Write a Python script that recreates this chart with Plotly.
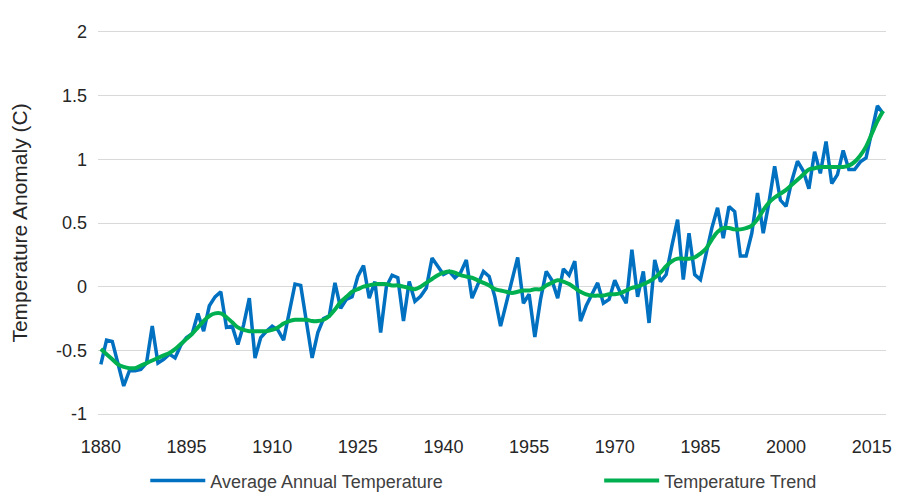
import plotly.graph_objs as go

#data
years = list(range(1880, 2018))

annualTemp = [
    -0.61, -0.42, -0.43, -0.60, -0.78, -0.66, -0.66, -0.65, -0.60, -0.31,
    -0.60, -0.57, -0.53, -0.56, -0.46, -0.40, -0.37, -0.21, -0.35, -0.15,
    -0.08, -0.04, -0.32, -0.31, -0.455, -0.30, -0.09, -0.56, -0.40, -0.35,
    -0.31, -0.34, -0.42, -0.20, 0.02, 0.01, -0.29, -0.56, -0.36, -0.25,
    -0.23, 0.03, -0.17, -0.10, -0.08, 0.08, 0.165, -0.09, 0.04, -0.36,
    0.00, 0.09, 0.07, -0.27, 0.04, -0.115, -0.075, -0.01, 0.225, 0.165,
    0.095, 0.12, 0.07, 0.11, 0.21, -0.09, 0.02, 0.12, 0.08, -0.08,
    -0.31, -0.13, 0.05, 0.23, -0.13, -0.06, -0.395, -0.10, 0.12, 0.05,
    -0.09, 0.14, 0.09, 0.20, -0.27, -0.15, -0.06, 0.03, -0.13, -0.10,
    0.05, -0.05, -0.13, 0.29, -0.08, 0.12, -0.285, 0.21, 0.04, 0.095,
    0.32, 0.526, 0.055, 0.42, 0.095, 0.055, 0.26, 0.46, 0.62, 0.38,
    0.63, 0.59, 0.24, 0.24, 0.42, 0.735, 0.42, 0.66, 0.945, 0.68,
    0.63, 0.83, 0.985, 0.91, 0.77, 1.06, 0.89, 1.14, 0.81, 0.88,
    1.07, 0.92, 0.92, 0.98, 1.01, 1.21, 1.42, 1.36,
]

trendTemp = [
    -0.49, -0.53, -0.57, -0.61, -0.63, -0.64, -0.64, -0.62, -0.60, -0.58,
    -0.56, -0.54, -0.52, -0.49, -0.45, -0.41, -0.37, -0.32, -0.27, -0.23,
    -0.21, -0.21, -0.24, -0.28, -0.32, -0.34, -0.35, -0.35, -0.35, -0.35,
    -0.34, -0.32, -0.29, -0.27, -0.26, -0.26, -0.26, -0.27, -0.27, -0.26,
    -0.23, -0.18, -0.12, -0.08, -0.04, -0.02, 0.00, 0.01, 0.02, 0.02,
    0.02, 0.01, 0.01, 0.00, -0.01, -0.02, 0.00, 0.03, 0.06, 0.09,
    0.11, 0.12, 0.11, 0.09, 0.08, 0.07, 0.05, 0.03, 0.01, -0.02,
    -0.03, -0.04, -0.05, -0.04, -0.03, -0.03, -0.02, -0.02, 0.01, 0.03,
    0.05, 0.04, 0.02, -0.01, -0.04, -0.06, -0.07, -0.07, -0.07, -0.06,
    -0.06, -0.05, -0.03, -0.01, 0.00, 0.02, 0.04, 0.07, 0.11, 0.16,
    0.20, 0.22, 0.22, 0.22, 0.23, 0.26, 0.30, 0.37, 0.43, 0.46,
    0.46, 0.45, 0.45, 0.46, 0.48, 0.53, 0.60, 0.66, 0.70, 0.73,
    0.76, 0.80, 0.84, 0.88, 0.92, 0.93, 0.94, 0.94, 0.94, 0.94,
    0.94, 0.95, 0.98, 1.03, 1.10, 1.20, 1.30, 1.38,
]

xTicks = [1880, 1895, 1910, 1925, 1940, 1955, 1970, 1985, 2000, 2015]
yTicks = [-1, -0.5, 0, 0.5, 1, 1.5, 2]
yLabels = ["-1", "-0.5", "0", "0.5", "1", "1.5", "2"]

fig = go.Figure()

#each series gets its own legend box so the two entries sit where the original has them
fig.add_trace(go.Scatter(x=years, y=annualTemp, mode="lines", name="Average Annual Temperature",
                         line=dict(color="#0070C0", width=3.5), legend="legend"))
fig.add_trace(go.Scatter(x=years, y=trendTemp, mode="lines", name="Temperature Trend",
                         line=dict(color="#00B050", width=4, shape="spline"), legend="legend2"))

legendStyle = dict(orientation="h", xanchor="left", y=-0.175, yanchor="middle",
                   font=dict(size=18, color="#404040"), itemwidth=55,
                   bgcolor="rgba(0,0,0,0)")

#page body has an 8px margin, so the figure is a bit smaller than the window
fig.update_layout(
    width=898, height=494,
    margin=dict(l=90, r=20, t=24, b=88, autoexpand=False),
    plot_bgcolor="white", paper_bgcolor="white",
    font=dict(family="Liberation Sans, Arial", size=18, color="#262626"),
    legend=dict(x=0.06, **legendStyle),
    legend2=dict(x=0.636, **legendStyle),
    showlegend=True,
)

#x axis line (mirrored) doubles as the gridlines at -1 and 2
fig.update_xaxes(range=[1879.5, 2017.5], tickvals=xTicks, showgrid=False, zeroline=False,
                 showline=True, linecolor="#D9D9D9", linewidth=1, mirror=True,
                 ticks="", tickfont=dict(size=18), ticklabelstandoff=16, automargin=False)
fig.update_yaxes(range=[-1, 2], tickvals=yTicks, ticktext=yLabels, showgrid=True,
                 gridcolor="#D9D9D9", gridwidth=1, zeroline=False, showline=False, ticks="",
                 tickfont=dict(size=18), ticklabelstandoff=10, automargin=False,
                 title=dict(text="Temperature Anomaly (C)", font=dict(size=21, color="#262626"), standoff=22))

fig.write_html("out.html")
